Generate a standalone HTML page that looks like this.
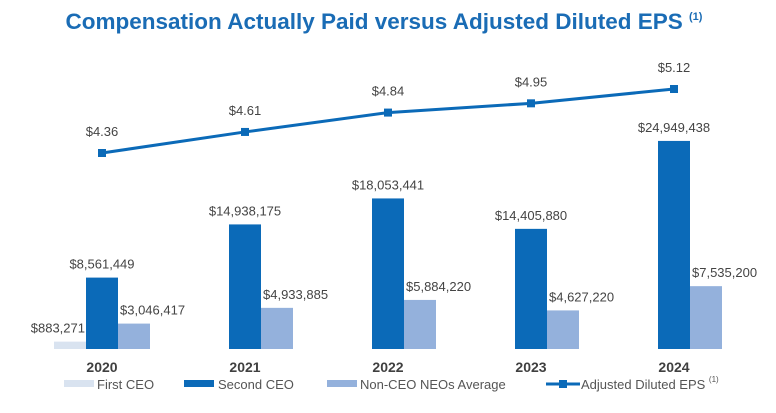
<!DOCTYPE html>
<html><head><meta charset="utf-8"><style>
body{margin:0;background:#fff;font-family:"Liberation Sans",sans-serif;}
svg text{font-family:"Liberation Sans",sans-serif;}
</style></head><body>
<svg width="776" height="408" viewBox="0 0 776 408">
<text x="384" y="29" text-anchor="middle" font-size="22.5" font-weight="bold" fill="#1a6cb5">Compensation Actually Paid versus Adjusted Diluted EPS <tspan font-size="11" dy="-9">(1)</tspan></text>
<g id="bars"></g><g id="line"></g>
<g>
<rect x="64" y="380" width="30" height="7" fill="#d9e3f0"/>
<text x="97" y="389" font-size="13" fill="#555">First CEO</text>
<rect x="184" y="380" width="30" height="7" fill="#0b6ab8"/>
<text x="218" y="389" font-size="13" fill="#555">Second CEO</text>
<rect x="327" y="380" width="30" height="7" fill="#94b1dc"/>
<text x="360" y="389" font-size="13" fill="#555">Non-CEO NEOs Average</text>
<line x1="546" y1="384" x2="580" y2="384" stroke="#0b6ab8" stroke-width="3"/>
<rect x="559" y="380" width="8" height="8" fill="#0b6ab8"/>
<text x="581" y="389" font-size="13" fill="#555">Adjusted Diluted EPS <tspan font-size="8" dy="-7">(1)</tspan></text>
</g>
</svg>
<script>
const years=["2020","2021","2022","2023","2024"];
const firstCEO=[883271,null,null,null,null];
const secondCEO=[8561449,14938175,18053441,14405880,24949438];
const neoAvg=[3046417,4933885,5884220,4627220,7535200];
const eps=[4.36,4.61,4.84,4.95,5.12];
const NS="http://www.w3.org/2000/svg";
const base=349,bw=32;
const xc=i=>102+i*143;
const yb=v=>base-v/1e6*8.34;
const ye=v=>153-(v-4.36)*84.2;
const fmt=v=>"$"+v.toLocaleString("en-US");
function mk(t,a,p){const e=document.createElementNS(NS,t);for(const k in a)e.setAttribute(k,a[k]);p.appendChild(e);return e;}
const bars=document.getElementById("bars"),line=document.getElementById("line");
years.forEach((y,i)=>{
 const c=xc(i);
 const series=[[firstCEO[i],c-bw*1.5,"#d9e3f0","first-ceo",-1],[secondCEO[i],c-bw/2,"#0b6ab8","second-ceo",0],[neoAvg[i],c+bw/2,"#94b1dc","neo-average",1]];
 series.forEach(([v,x,col,n,pos])=>{
  if(v==null)return;
  const r=mk("rect",{x:x,y:yb(v),width:bw,height:base-yb(v),fill:col},bars);
  
  
  let tx=x+bw/2,anc="middle";
  if(pos==-1){tx=x+bw-1;anc="end";}
  if(pos==1){tx=x+2;anc="start";}
  const t=mk("text",{x:tx,y:yb(v)-9,"text-anchor":anc,"font-size":"13",fill:"#444"},bars);
  t.textContent=fmt(v);
  
  
 });
 const yl=mk("text",{x:c,y:372,"text-anchor":"middle","font-size":"14","font-weight":"bold",fill:"#404040"},bars);
 yl.textContent=y;
 
 
});
const pl=mk("polyline",{points:eps.map((v,i)=>xc(i)+","+ye(v)).join(" "),fill:"none",stroke:"#0b6ab8","stroke-width":"3"},line);


eps.forEach((v,i)=>{
 const m=mk("rect",{x:xc(i)-4,y:ye(v)-4,width:8,height:8,fill:"#0b6ab8"},line);
 
 
 const t=mk("text",{x:xc(i),y:ye(v)-17,"text-anchor":"middle","font-size":"13",fill:"#444"},line);
 t.textContent="$"+v.toFixed(2);
 
 
});
</script>
</body></html>
